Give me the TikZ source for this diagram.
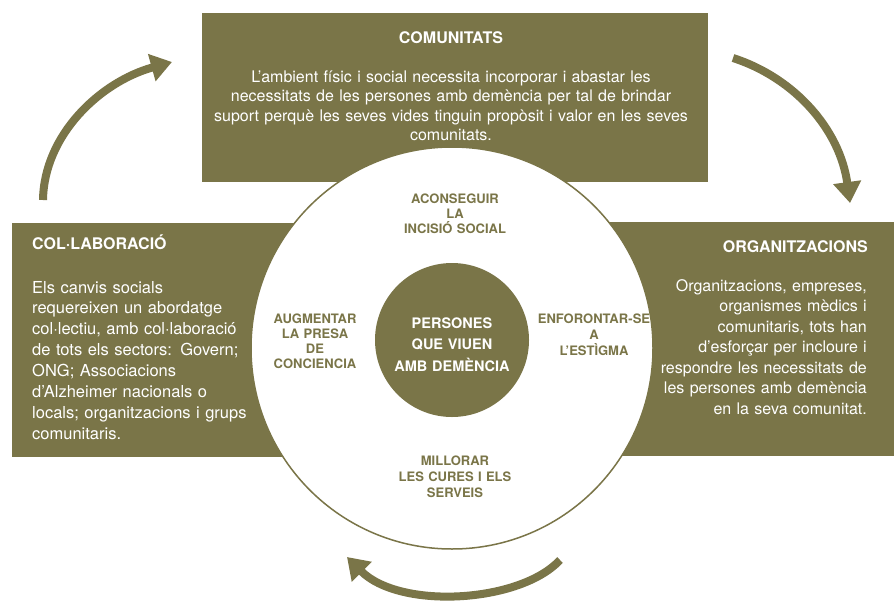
\documentclass[tikz,border=0pt]{standalone}
\usepackage{fontspec}
\setmainfont{TeX Gyre Heros}
\usetikzlibrary{arrows.meta}
\definecolor{boxolive}{RGB}{122,117,72}
\begin{document}
\begin{tikzpicture}[x=1pt,y=-1pt,
  box/.style={fill=boxolive, inner sep=0pt, anchor=north west},
  boxtext/.style={text=white, inner sep=0pt, font=\fontsize{16}{19.3}\selectfont},
  head/.style={text=white, inner sep=0pt, font=\bfseries\fontsize{16}{19}\selectfont},
  ringtext/.style={text=boxolive, inner sep=0pt, align=center, text width=130pt, anchor=base, font=\bfseries\fontsize{13}{15.2}\selectfont},
  arr/.style={draw=boxolive, line width=8pt, -{Triangle[length=21pt,width=27pt]}},
]
\useasboundingbox (0,0) rectangle (894,600);
\fill[white] (0,0) rectangle (894,600);

% boxes
\node[box, minimum width=506pt, minimum height=169pt] (top) at (202,13) {};
\node[box, minimum width=300pt, minimum height=234pt] (left) at (12,223) {};
\node[box, minimum width=294pt, minimum height=234pt] (right) at (600,222) {};

% circles
\node[circle, fill=white, draw=boxolive, line width=1.5pt, minimum size=402pt, inner sep=0pt] (outer) at (452,348) {};
\node[circle, fill=boxolive, minimum size=154pt, inner sep=0pt] (core) at (452,340) {};

% top box text
\node[head, anchor=base] (tophead) at (451,43) {COMUNITATS};
\node[boxtext, anchor=base, align=center, text width=500pt] (topbody) at (451,82.5)
 {L'ambient físic i social necessita incorporar i abastar les\\
  necessitats de les persones amb demència per tal de brindar\\
  suport perquè les seves vides tinguin propòsit i valor en les seves\\
  comunitats.};

% left box text
\node[head, anchor=base west] (lefthead) at (32,249) {COL·LABORACIÓ};
\node[boxtext, anchor=base west, align=left, text width=260pt, font=\fontsize{16.5}{20.9}\selectfont] (leftbody) at (32,293)
 {Els canvis socials\\
  requereixen un abordatge\\
  col·lectiu, amb col·laboració\\
  de tots els sectors: Govern;\\
  ONG; Associacions\\
  d'Alzheimer nacionals o\\
  locals; organitzacions i grups\\
  comunitaris.};

% right box text
\node[head, anchor=base east] (righthead) at (868,252) {ORGANITZACIONS};
\node[boxtext, anchor=base east, align=right, text width=240pt, font=\fontsize{16}{20.5}\selectfont] (rightbody) at (867,291)
 {Organitzacions, empreses,\\
  organismes mèdics i\\
  comunitaris, tots han\\
  d'esforçar per incloure i\\
  respondre les necessitats de\\
  les persones amb demència\\
  en la seva comunitat.};

% ring labels
\node[ringtext] (rtop) at (455,203) {ACONSEGUIR\\LA\\INCISIÓ SOCIAL};
\node[ringtext] (rleft) at (315,323) {AUGMENTAR\\LA PRESA\\DE\\CONCIENCIA};
\node[ringtext, font=\bfseries\fontsize{13}{16}\selectfont] (rright) at (594,323) {ENFORONTAR-SE\\A\\L'ESTÌGMA};
\node[ringtext, font=\bfseries\fontsize{13}{16}\selectfont] (rbottom) at (455,465) {MILLORAR\\LES CURES I ELS\\SERVEIS};

% centre text
\node[text=white, inner sep=0pt, align=center, text width=150pt, anchor=base, font=\bfseries\fontsize{14.5}{21.5}\selectfont] (coretext) at (452,328) {PERSONES\\QUE VIUEN\\AMB DEMÈNCIA};

% arrows
\coordinate (a1s) at (43,200);
\coordinate (a1e) at (172,62);
\coordinate (a2s) at (733,58);
\coordinate (a2e) at (850,203);
\coordinate (a3s) at (560,560);
\coordinate (a3e) at (347,557);
\draw[arr] (a1s) .. controls (44,135) and (100,82) .. (a1e);
\draw[arr] (a2s) .. controls (795,78) and (840,130) .. (a2e);
\draw[arr] (a3s) .. controls (520,603) and (400,610) .. (a3e);
\end{tikzpicture}
\end{document}
